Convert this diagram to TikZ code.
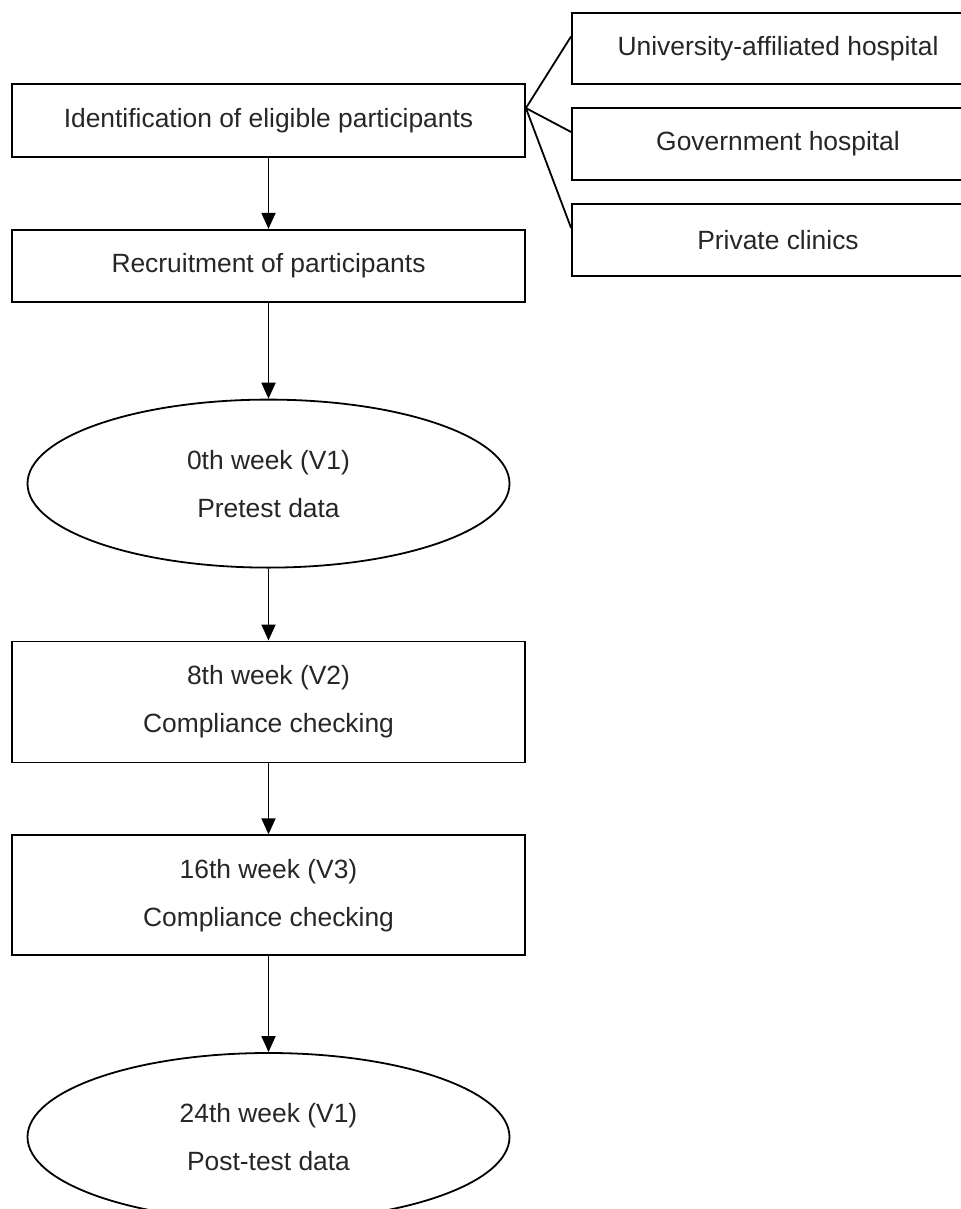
\documentclass[tikz,border=0pt]{standalone}
\usepackage{fontspec}
\setmainfont{Liberation Sans}
\usepackage{tikz}
\usetikzlibrary{shapes.geometric}
\usetikzlibrary{positioning}
\usetikzlibrary{arrows.meta}

\begin{document}
\begin{tikzpicture}[line width=0.9pt,
  every node/.style={font=\fontsize{13.2}{24}\selectfont,align=center,inner sep=0pt,text=black!85},
  box/.style={draw,rectangle,minimum width=256.5pt,minimum height=36.5pt},
  site/.style={draw,rectangle,minimum width=206pt,minimum height=36pt},
  oval/.style={draw,ellipse,minimum width=241pt,minimum height=84pt},
  flow/.style={-{Triangle[length=8pt,width=7pt]}}]
\path[use as bounding box,clip] (0,0) rectangle (480.5pt,-604.5pt);
% main column
\node[box] (ident) at (134.25pt,-60.25pt) {Identification of eligible participants};
\node[box,minimum height=36pt,below=35.5pt of ident] (recruit) {Recruitment of participants};
\node[oval,below=48pt of recruit] (pre) {0th week (V1)\\Pretest data};
\node[box,minimum height=60.5pt,below=36pt of pre] (chk8) {8th week (V2)\\Compliance checking};
\node[box,minimum height=60pt,below=35.5pt of chk8] (chk16) {16th week (V3)\\Compliance checking};
\node[oval,below=48pt of chk16] (post) {24th week (V1)\\Post-test data};
% sites
\node[site,minimum height=35.7pt] (uni) at (389pt,-24.2pt) {University-affiliated hospital};
\node[site] (gov) at (389pt,-72pt) {Government hospital};
\node[site] (priv) at (389pt,-120pt) {Private clinics};
\foreach \s in {uni,gov,priv}
  \draw ([yshift=6.2pt]ident.east) -- ([yshift=6pt]\s.west);
\draw[flow] (ident) -- (recruit);
\draw[flow] (recruit) -- (pre);
\draw[flow] (pre) -- (chk8);
\draw[flow] (chk8) -- (chk16);
\draw[flow] (chk16) -- (post);
\end{tikzpicture}
\end{document}
